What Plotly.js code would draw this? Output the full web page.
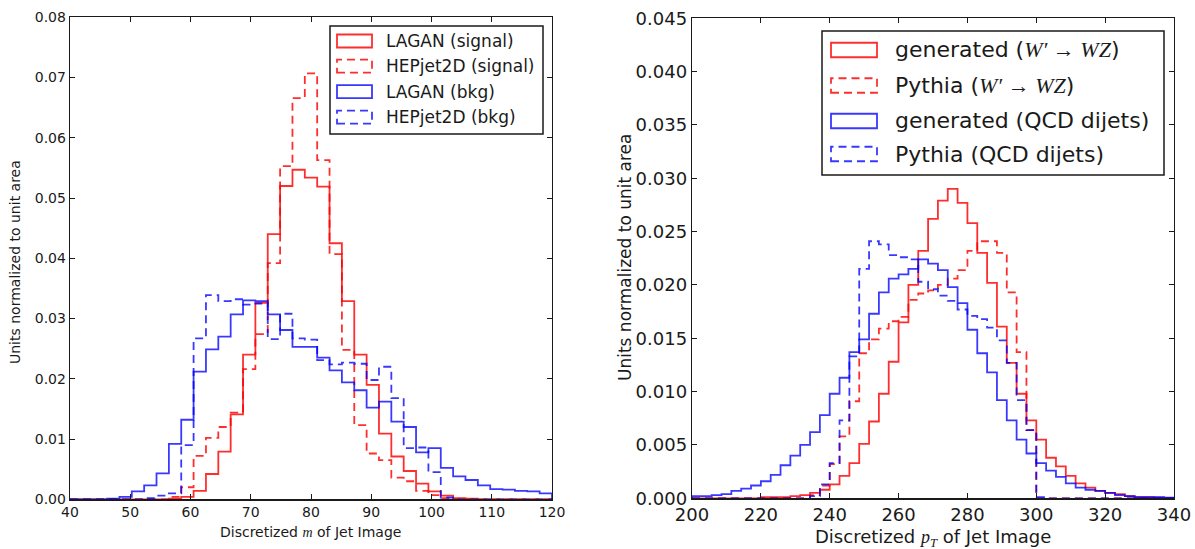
<!DOCTYPE html>
<html><head><meta charset="utf-8">
<script src="https://cdn.plot.ly/plotly-3.0.1.min.js"></script>
<style>html,body{margin:0;padding:0;background:#fff;} #chart{width:1195px;height:549px;}</style>
</head><body><div id="chart"></div>
<script>
// ---------- Left panel: discretized jet mass m (39 bins from 40 to 120) ----------
const massRange = [40, 120];
const massBinCount = 39;
const laganSignal = [0,0,0,0,0,0,0,0,0.0001,0.0004,0.0014,0.0042,0.0079,0.0141,0.024,0.0326,0.044,0.052,0.0547,0.0534,0.0519,0.0425,0.0329,0.024,0.019,0.0109,0.0071,0.0047,0.0026,0.0013,0.0006,0.0002,0.0001,0,0,0,0,0,0];
const hepSignal = [0,0,0,0,0,0,0,0,0.0004,0.002,0.0072,0.0102,0.012,0.0144,0.0216,0.0274,0.0392,0.0553,0.0666,0.0707,0.0563,0.0407,0.0248,0.0123,0.0076,0.0065,0.0036,0.003,0.0014,0.0007,0.0002,0,0,0,0,0,0,0,0];
const laganBkg = [0,0,0,0.0001,0.0004,0.0013,0.0023,0.0043,0.0092,0.0132,0.0212,0.0249,0.027,0.0307,0.033,0.0329,0.0307,0.0281,0.0253,0.0253,0.0235,0.0214,0.0194,0.0181,0.0152,0.0162,0.0129,0.012,0.0078,0.0085,0.0052,0.0038,0.0032,0.0023,0.0017,0.0016,0.0014,0.0013,0.001];
const hepBkg = [0,0,0,0,0,0,0.0002,0.0006,0.001,0.009,0.0267,0.0339,0.0329,0.0332,0.0323,0.0325,0.0266,0.0308,0.0267,0.0265,0.0231,0.0224,0.0227,0.0225,0.0198,0.022,0.0168,0.0085,0.0086,0.0045,0.0003,0,0,0,0,0,0,0,0];
const leftLabels = ['LAGAN (signal)', 'HEPjet2D (signal)', 'LAGAN (bkg)', 'HEPjet2D (bkg)'];

// ---------- Right panel: discretized pT (49 bins from 200 to 340) ----------
const ptRange = [200, 340];
const ptBinCount = 49;
const genSignal = [0,0,0,0,0,0,0,0.0001,0.0001,0.0001,0.0002,0.0003,0.0005,0.0008,0.0013,0.0021,0.0033,0.0051,0.0072,0.0098,0.0128,0.0165,0.02,0.0232,0.0262,0.0279,0.029,0.0277,0.0258,0.023,0.0202,0.0161,0.0127,0.0098,0.0073,0.0055,0.0038,0.003,0.0021,0.0014,0.001,0.0007,0.0005,0.0004,0.0002,0.0001,0.0001,0.00005,0.00003];
const pythiaSignal = [0,0,0,0,0,0,0,0,0,0,0,0,0.0003,0.0012,0.0032,0.0058,0.0091,0.0136,0.0149,0.0159,0.0166,0.017,0.0186,0.0192,0.0195,0.02,0.0206,0.0214,0.0232,0.0241,0.0241,0.023,0.0193,0.0137,0.0064,0,0,0,0,0,0,0,0,0,0,0,0,0,0];
const genBkg = [0.0002,0.0002,0.0003,0.0004,0.0007,0.0009,0.0012,0.0016,0.0022,0.0031,0.004,0.005,0.0062,0.0078,0.0098,0.0113,0.0137,0.0149,0.0173,0.0193,0.0206,0.021,0.0215,0.0224,0.022,0.0214,0.0198,0.0183,0.0158,0.0136,0.0118,0.0092,0.0073,0.0055,0.0042,0.0033,0.0026,0.002,0.0014,0.001,0.0008,0.0007,0.0005,0.0003,0.0002,0.0001,0.0001,0.0001,0.00005];
const pythiaBkg = [0,0,0,0,0,0,0,0,0,0,0,0,0.0002,0.0013,0.0033,0.0073,0.0133,0.0215,0.0241,0.0238,0.0228,0.0226,0.0224,0.0203,0.0196,0.019,0.0185,0.0177,0.0171,0.0168,0.016,0.0148,0.0127,0.0092,0.0064,0.0001,0,0,0,0,0,0,0,0,0,0,0,0,0];
const MATH = 'font-family:Liberation Serif';
const rightLabels = [
  'generated (<span style="' + MATH + '"><i>W′</i> → <i>WZ</i></span>)',
  'Pythia (<span style="' + MATH + '"><i>W′</i> → <i>WZ</i></span>)',
  'generated (QCD dijets)',
  'Pythia (QCD dijets)'
];

const RED = 'rgba(255,0,0,0.82)', BLUE = 'rgba(0,0,255,0.78)';
const seriesColors = [RED, RED, BLUE, BLUE];
const seriesDash = ['solid', '8px,5px', 'solid', '8px,5px'];

const W = 1195, H = 549;
const px = x => x / W, py = y => 1 - y / H;

function binEdges(range, n) {
  const e = [];
  for (let i = 0; i <= n; i++) e.push(range[0] + (range[1] - range[0]) * i / n);
  return e;
}
function stepTrace(edges, vals, color, dash, xa, ya) {
  const x = [edges[0]], y = [0];
  for (let i = 0; i < vals.length; i++) { x.push(edges[i]); y.push(vals[i]); }
  x.push(edges[vals.length]); y.push(vals[vals.length - 1]);
  x.push(edges[vals.length]); y.push(0);
  return {type: 'scatter', mode: 'lines', x, y, xaxis: xa, yaxis: ya, showlegend: false,
          hoverinfo: 'skip', line: {shape: 'hv', color, dash, width: 1.8}};
}

const mEdges = binEdges(massRange, massBinCount);
const pEdges = binEdges(ptRange, ptBinCount);
const leftSeries = [laganSignal, hepSignal, laganBkg, hepBkg];
const rightSeries = [genSignal, pythiaSignal, genBkg, pythiaBkg];
const traces = [];
leftSeries.forEach((s, i) => traces.push(stepTrace(mEdges, s, seriesColors[i], seriesDash[i], 'x', 'y')));
rightSeries.forEach((s, i) => traces.push(stepTrace(pEdges, s, seriesColors[i], seriesDash[i], 'x2', 'y2')));

const FONT = 'DejaVu Sans';
const INK = '#1a1a1a';
function axis(extra) {
  return Object.assign({showgrid: false, zeroline: false, showline: true, linecolor: INK, linewidth: 1.3,
    mirror: 'allticks', ticks: 'inside', ticklen: 5, tickwidth: 1, tickcolor: INK, fixedrange: true}, extra);
}

const shapes = [], annotations = [];
function legend(box, symX, rowsY, symH, textX, fontSize, labels) {
  shapes.push({type: 'rect', xref: 'paper', yref: 'paper', x0: px(box[0]), x1: px(box[1]), y0: py(box[3]), y1: py(box[2]),
    line: {color: INK, width: 1.5}, fillcolor: 'rgba(255,255,255,1)', layer: 'above'});
  labels.forEach((lab, i) => {
    shapes.push({type: 'rect', xref: 'paper', yref: 'paper', x0: px(symX[0]), x1: px(symX[1]),
      y0: py(rowsY[i] + symH / 2), y1: py(rowsY[i] - symH / 2),
      line: {color: seriesColors[i], width: 1.8, dash: seriesDash[i]}, layer: 'above'});
    annotations.push({xref: 'paper', yref: 'paper', x: px(textX), y: py(rowsY[i]), xanchor: 'left', yanchor: 'middle',
      showarrow: false, text: lab, font: {family: FONT, size: fontSize, color: INK}});
  });
}
legend([330, 543, 26, 134], [337, 372], [41, 66.2, 91.7, 117.2], 13, 384, 17, leftLabels);
legend([822, 1164, 31, 175], [831, 877], [50, 85.5, 121, 154], 14.5, 893, 22, rightLabels);

// axis titles
annotations.push({xref: 'paper', yref: 'paper', x: px(310), y: py(532), showarrow: false, xanchor: 'center', yanchor: 'middle',
  text: 'Discretized <span style="' + MATH + '"><i>m</i></span> of Jet Image', font: {family: FONT, size: 14, color: INK}});
annotations.push({xref: 'paper', yref: 'paper', x: px(15), y: py(262), showarrow: false, textangle: -90, xanchor: 'center', yanchor: 'middle',
  text: 'Units normalized to unit area', font: {family: FONT, size: 14, color: INK}});
annotations.push({xref: 'paper', yref: 'paper', x: px(933), y: py(538), showarrow: false, xanchor: 'center', yanchor: 'middle',
  text: 'Discretized <span style="' + MATH + '"><i>p</i><sub><i>T</i></sub></span> of Jet Image', font: {family: FONT, size: 18, color: INK}});
annotations.push({xref: 'paper', yref: 'paper', x: px(625), y: py(258), showarrow: false, textangle: -90, xanchor: 'center', yanchor: 'middle',
  text: 'Units normalized to unit area', font: {family: FONT, size: 17, color: INK}});

const layout = {
  width: W, height: H, margin: {l: 0, r: 0, t: 0, b: 0}, paper_bgcolor: '#fff', plot_bgcolor: '#fff',
  font: {family: FONT, color: INK}, showlegend: false,
  xaxis: axis({domain: [px(70), px(552)], range: massRange, dtick: 10, tick0: 0, anchor: 'y', tickfont: {size: 14, family: FONT, color: INK}}),
  yaxis: axis({domain: [py(499.3), py(17.3)], range: [0, 0.08], dtick: 0.01, tick0: 0, tickformat: '.2f', anchor: 'x', tickfont: {size: 14, family: FONT, color: INK}}),
  xaxis2: axis({domain: [px(692), px(1174)], range: ptRange, dtick: 20, tick0: 0, anchor: 'y2', tickfont: {size: 18, family: FONT, color: INK}}),
  yaxis2: axis({domain: [py(498.3), py(18.3)], range: [0, 0.045], dtick: 0.005, tick0: 0, tickformat: '.3f', anchor: 'x2', tickfont: {size: 18, family: FONT, color: INK}}),
  shapes, annotations
};
Plotly.newPlot('chart', traces, layout, {staticPlot: true, displayModeBar: false});
</script></body></html>
